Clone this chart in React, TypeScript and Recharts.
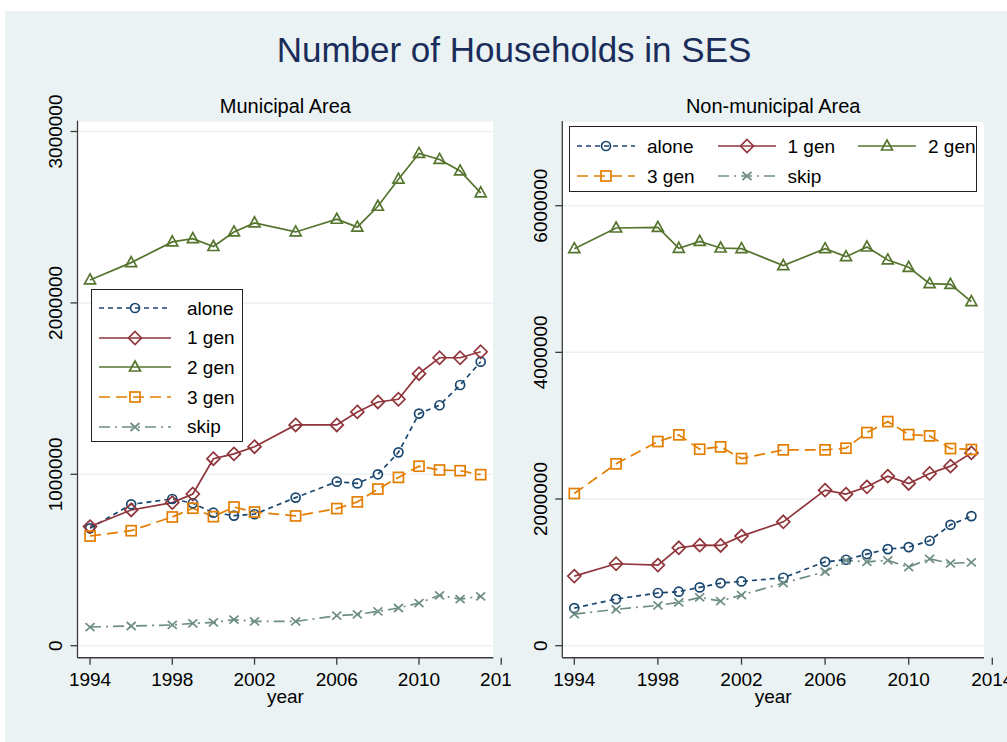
import { LineChart, Line, XAxis, YAxis, CartesianGrid, ReferenceLine } from 'recharts';

const FONT = '"Liberation Sans", Arial, Helvetica, sans-serif';
const AXIS = '#3a3a3a';
const GRID = '#EAF2F3';
const BG = '#EAF2F3';

const years = [1994, 1996, 1998, 1999, 2000, 2001, 2002, 2004, 2006, 2007, 2008, 2009, 2010, 2011, 2012, 2013];
const xTicks = [1994, 1998, 2002, 2006, 2010, 2014];

// Municipal area
const muniAlone = [685000, 825000, 856000, 831000, 776000, 759000, 767000, 864000, 957000, 947000, 1000000, 1128000, 1354000, 1403000, 1521000, 1657000];
const muniGen1 = [695000, 792000, 835000, 885000, 1091000, 1119000, 1161000, 1288000, 1288000, 1364000, 1422000, 1438000, 1587000, 1680000, 1680000, 1715000];
const muniGen2 = [2134000, 2235000, 2356000, 2375000, 2329000, 2414000, 2467000, 2414000, 2488000, 2442000, 2564000, 2722000, 2872000, 2837000, 2770000, 2642000];
const muniGen3 = [640000, 671000, 751000, 802000, 753000, 809000, 780000, 757000, 800000, 839000, 914000, 982000, 1047000, 1025000, 1021000, 998000];
const muniSkip = [109000, 115000, 121000, 130000, 136000, 152000, 142000, 142000, 175000, 183000, 200000, 220000, 249000, 294000, 272000, 288000];
const muniYTicks = [0, 1000000, 2000000, 3000000];

// Non-municipal area
const nonAlone = [513000, 636000, 718000, 736000, 795000, 854000, 876000, 926000, 1144000, 1172000, 1249000, 1317000, 1344000, 1431000, 1648000, 1767000];
const nonGen1 = [949000, 1117000, 1099000, 1335000, 1371000, 1367000, 1494000, 1689000, 2121000, 2066000, 2166000, 2312000, 2212000, 2348000, 2448000, 2629000];
const nonGen2 = [5414000, 5696000, 5705000, 5419000, 5514000, 5423000, 5414000, 5183000, 5414000, 5305000, 5437000, 5260000, 5160000, 4937000, 4928000, 4692000];
const nonGen3 = [2075000, 2480000, 2784000, 2875000, 2679000, 2711000, 2552000, 2670000, 2670000, 2693000, 2906000, 3056000, 2879000, 2861000, 2688000, 2675000];
const nonSkip = [431000, 495000, 550000, 590000, 658000, 609000, 690000, 854000, 1008000, 1163000, 1144000, 1163000, 1072000, 1185000, 1122000, 1135000];
const nonYTicks = [0, 2000000, 4000000, 6000000];

type MarkerShape = 'circle' | 'diamond' | 'triangle' | 'square' | 'x';

interface SeriesDef {
  key: string;
  name: string;
  color: string;
  dash?: string;
  marker: MarkerShape;
}

const SERIES: SeriesDef[] = [
  { key: 'alone', name: 'alone', color: '#1A476F', dash: '5 4', marker: 'circle' },
  { key: 'gen1', name: '1 gen', color: '#90353B', marker: 'diamond' },
  { key: 'gen2', name: '2 gen', color: '#55752F', marker: 'triangle' },
  { key: 'gen3', name: '3 gen', color: '#E37E00', dash: '11 6', marker: 'square' },
  { key: 'skip', name: 'skip', color: '#6E8E84', dash: '11 5 2 5', marker: 'x' },
];

const toRows = (a: number[], g1: number[], g2: number[], g3: number[], s: number[]) =>
  years.map((year, i) => ({ year, alone: a[i], gen1: g1[i], gen2: g2[i], gen3: g3[i], skip: s[i] }));

const muniRows = toRows(muniAlone, muniGen1, muniGen2, muniGen3, muniSkip);
const nonRows = toRows(nonAlone, nonGen1, nonGen2, nonGen3, nonSkip);

const Marker = ({ cx, cy, shape, color }: { cx?: number; cy?: number; shape: MarkerShape; color: string }) => {
  if (cx == null || cy == null) return null;
  const st = { fill: 'none', stroke: color, strokeWidth: 1.7 };
  switch (shape) {
    case 'circle':
      return <circle cx={cx} cy={cy} r={4.5} {...st} />;
    case 'diamond':
      return <polygon points={`${cx},${cy - 6.5} ${cx + 6.5},${cy} ${cx},${cy + 6.5} ${cx - 6.5},${cy}`} {...st} />;
    case 'triangle':
      return <polygon points={`${cx},${cy - 6} ${cx + 5.5},${cy + 4} ${cx - 5.5},${cy + 4}`} {...st} />;
    case 'square':
      return <rect x={cx - 5} y={cy - 5} width={10} height={10} {...st} />;
    default:
      return (
        <path d={`M${cx - 4.5},${cy - 4} L${cx + 4.5},${cy + 4} M${cx - 4.5},${cy + 4} L${cx + 4.5},${cy - 4}`} {...st} />
      );
  }
};

const YTick = (props: any) => {
  const { x, y, payload } = props;
  const bx = x - 8;
  return (
    <text
      x={bx}
      y={y}
      transform={`rotate(-90 ${bx} ${y})`}
      textAnchor="middle"
      fontSize={19}
      fontFamily={FONT}
      fill="#000"
    >
      {payload.value}
    </text>
  );
};

interface LegendProps {
  left: number;
  top: number;
  width: number;
  height: number;
  cols: number;
  rowGap: number;
  firstRow: number;
  colGap: number;
  sampleLen: number;
  textGap: number;
}

const LegendBox = ({ left, top, width, height, cols, rowGap, firstRow, colGap, sampleLen, textGap }: LegendProps) => (
  <div
    style={{
      position: 'absolute',
      left,
      top,
      width,
      height,
      background: '#fff',
      border: '1.3px solid #222',
      boxSizing: 'border-box',
    }}
  >
    {SERIES.map((s, i) => {
      const row = Math.floor(i / cols);
      const col = i % cols;
      const cy = firstRow + row * rowGap;
      const x0 = 7 + col * colGap;
      return (
        <div key={s.key}>
          <svg
            width={sampleLen}
            height={20}
            style={{ position: 'absolute', left: x0, top: cy - 10, overflow: 'visible' }}
          >
            <line x1={0} y1={10} x2={sampleLen} y2={10} stroke={s.color} strokeWidth={1.7} strokeDasharray={s.dash} />
            <Marker cx={sampleLen / 2} cy={10} shape={s.marker} color={s.color} />
          </svg>
          <div
            style={{
              position: 'absolute',
              left: x0 + textGap,
              top: cy - 9.5,
              height: 19,
              lineHeight: '19px',
              fontSize: 19,
              whiteSpace: 'nowrap',
              color: '#000',
            }}
          >
            {s.name}
          </div>
        </div>
      );
    })}
  </div>
);

interface PanelProps {
  title: string;
  data: ReturnType<typeof toRows>;
  svgLeft: number;
  svgWidth: number;
  marginLeft: number;
  yAxisWidth: number;
  marginRight: number;
  plotTop: number;
  plotBottom: number;
  plotLeft: number;
  whiteRight: number;
  xDomain: [number, number];
  xWhiteEnd: number;
  yDomain: [number, number];
  yTicks: number[];
  legend: LegendProps;
}

const Panel = (p: PanelProps) => {
  const center = (p.plotLeft + p.whiteRight) / 2;
  return (
    <>
      <div
        style={{
          position: 'absolute',
          left: p.plotLeft,
          top: p.plotTop,
          width: p.whiteRight - p.plotLeft,
          height: p.plotBottom - p.plotTop,
          background: '#fff',
        }}
      />
      <div
        style={{
          position: 'absolute',
          left: center - 150,
          width: 300,
          top: 96,
          lineHeight: 1,
          fontSize: 20,
          textAlign: 'center',
          color: '#000',
        }}
      >
        {p.title}
      </div>
      <div
        style={{
          position: 'absolute',
          left: center - 50,
          width: 100,
          top: 687,
          lineHeight: 1,
          fontSize: 19,
          textAlign: 'center',
          color: '#000',
        }}
      >
        year
      </div>
      <div style={{ position: 'absolute', left: p.svgLeft, top: 0, width: p.svgWidth, height: 742, overflow: 'hidden' }}>
        <LineChart
          width={p.svgWidth}
          height={742}
          data={p.data}
          margin={{ top: p.plotTop, right: p.marginRight, left: p.marginLeft, bottom: 742 - p.plotBottom - 40 }}
        >
          <CartesianGrid vertical={false} stroke={GRID} strokeWidth={1.5} />
          <XAxis
            type="number"
            dataKey="year"
            domain={p.xDomain}
            allowDataOverflow
            ticks={xTicks}
            interval={0}
            height={40}
            tickSize={7}
            tickMargin={8}
            axisLine={false}
            tickLine={{ stroke: AXIS, strokeWidth: 1.3 }}
            tick={{ fontSize: 19, fill: '#000', fontFamily: FONT }}
          />
          <YAxis
            type="number"
            domain={p.yDomain}
            allowDataOverflow
            ticks={p.yTicks}
            interval={0}
            width={p.yAxisWidth}
            tickSize={7}
            tickMargin={0}
            axisLine={{ stroke: AXIS, strokeWidth: 1.3 }}
            tickLine={{ stroke: AXIS, strokeWidth: 1.3 }}
            tick={<YTick />}
          />
          <ReferenceLine
            segment={[
              { x: p.xDomain[0], y: p.yDomain[0] },
              { x: p.xWhiteEnd, y: p.yDomain[0] },
            ]}
            stroke={AXIS}
            strokeWidth={1.5}
          />
          {SERIES.map((s) => (
            <Line
              key={s.key}
              type="linear"
              dataKey={s.key}
              name={s.name}
              stroke={s.color}
              strokeWidth={1.7}
              strokeDasharray={s.dash}
              isAnimationActive={false}
              activeDot={false}
              dot={(d: any) => (
                <Marker key={`${s.key}-${d.index}`} cx={d.cx} cy={d.cy} shape={s.marker} color={s.color} />
              )}
            />
          ))}
        </LineChart>
      </div>
      <LegendBox {...p.legend} />
    </>
  );
};

const App = () => (
  <div
    style={{
      position: 'absolute',
      left: 0,
      top: 0,
      width: 1007,
      height: 742,
      background: '#fff',
      overflow: 'hidden',
      fontFamily: FONT,
    }}
  >
    <div style={{ position: 'absolute', left: 5, top: 11, right: 0, bottom: 0, background: BG }} />
    <div
      style={{
        position: 'absolute',
        left: 264,
        width: 500,
        top: 32,
        lineHeight: 1,
        fontSize: 35,
        textAlign: 'center',
        color: '#1A2D5A',
      }}
    >
      Number of Households in SES
    </div>
    <Panel
      title="Municipal Area"
      data={muniRows}
      svgLeft={0}
      svgWidth={511}
      marginLeft={17.5}
      yAxisWidth={60}
      marginRight={9.75}
      plotTop={120.7}
      plotBottom={657.7}
      plotLeft={77.5}
      whiteRight={493.3}
      xDomain={[1993.39, 2014]}
      xWhiteEnd={2013.61}
      yDomain={[-70000, 3063000]}
      yTicks={muniYTicks}
      legend={{
        left: 91,
        top: 289,
        width: 152,
        height: 153,
        cols: 1,
        rowGap: 29.7,
        firstRow: 18,
        colGap: 0,
        sampleLen: 72,
        textGap: 88,
      }}
    />
    <Panel
      title="Non-municipal Area"
      data={nonRows}
      svgLeft={511}
      svgWidth={496}
      marginLeft={11.3}
      yAxisWidth={40}
      marginRight={14.7}
      plotTop={121}
      plotBottom={657.7}
      plotLeft={562.3}
      whiteRight={984}
      xDomain={[1993.426, 2014]}
      xWhiteEnd={2013.6}
      yDomain={[-164000, 7155000]}
      yTicks={nonYTicks}
      legend={{
        left: 569,
        top: 126,
        width: 408,
        height: 66,
        cols: 3,
        rowGap: 30,
        firstRow: 19,
        colGap: 140.5,
        sampleLen: 58,
        textGap: 70,
      }}
    />
  </div>
);

export default App;
